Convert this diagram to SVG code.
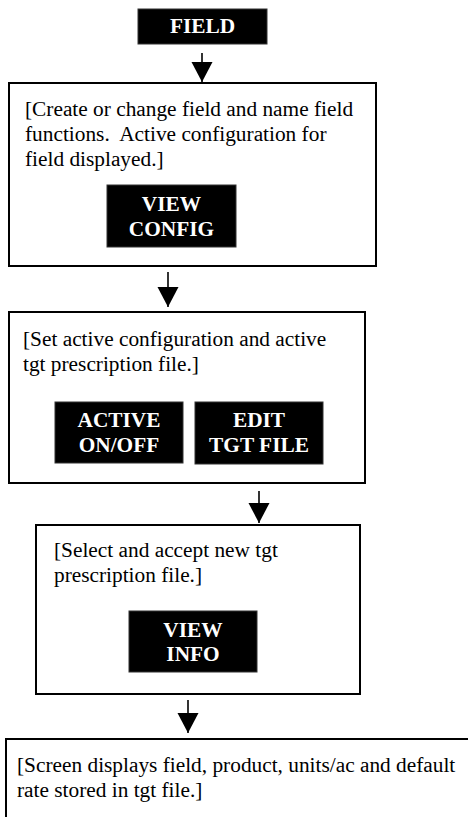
<svg xmlns="http://www.w3.org/2000/svg" width="468" height="817" viewBox="0 0 468 817">
<defs>
<style>
.box{fill:#fff;stroke:#000;stroke-width:2}
.btn{fill:#000;stroke:#333;stroke-width:1}
.t{font-family:"Liberation Serif","Times New Roman",serif;font-size:21.33px;fill:#000;white-space:pre}
.bt{font-family:"Liberation Serif","Times New Roman",serif;font-size:21.33px;font-weight:bold;fill:#fff;text-anchor:middle}
.conn{stroke:#000;stroke-width:1.6;fill:none}
</style>
<marker id="arr" markerUnits="userSpaceOnUse" markerWidth="21" markerHeight="22" refX="20" refY="10.5" orient="auto" viewBox="0 0 21 22">
<path d="M0,0 L20,10.5 L0,21 z" fill="#000"/>
</marker>
</defs>
<g id="connectors">
<line class="conn" x1="202" y1="53" x2="202" y2="82" marker-end="url(#arr)"/>
<line class="conn" x1="168" y1="272" x2="168" y2="307" marker-end="url(#arr)"/>
<line class="conn" x1="259" y1="491" x2="259" y2="523" marker-end="url(#arr)"/>
<line class="conn" x1="188" y1="700" x2="188" y2="733" marker-end="url(#arr)"/>
</g>
<g id="field">
<rect class="btn" x="138" y="9" width="129" height="35"/>
<text class="bt" x="202.5" y="33">FIELD</text>
</g>
<g id="box1">
<rect class="box" x="9" y="83" width="367" height="183"/>
<text class="t" x="25" y="116">[Create or change field and name field</text>
<text class="t" x="25" y="141" xml:space="preserve">functions.  Active configuration for</text>
<text class="t" x="25" y="166">field displayed.]</text>
</g>
<g id="view-config">
<rect class="btn" x="107" y="185" width="129" height="62"/>
<text class="bt" x="171.5" y="211">VIEW</text>
<text class="bt" x="171.5" y="236">CONFIG</text>
</g>
<g id="box2">
<rect class="box" x="9" y="312" width="356" height="171"/>
<text class="t" x="23" y="346">[Set active configuration and active</text>
<text class="t" x="23" y="371">tgt prescription file.]</text>
</g>
<g id="active-onoff">
<rect class="btn" x="55" y="402" width="128" height="61"/>
<text class="bt" x="119" y="427">ACTIVE</text>
<text class="bt" x="119" y="452">ON/OFF</text>
</g>
<g id="edit-tgt-file">
<rect class="btn" x="195" y="402" width="128" height="62"/>
<text class="bt" x="259" y="427">EDIT</text>
<text class="bt" x="259" y="452">TGT FILE</text>
</g>
<g id="box3">
<rect class="box" x="36" y="525" width="324" height="169"/>
<text class="t" x="54" y="557">[Select and accept new tgt</text>
<text class="t" x="54" y="582">prescription file.]</text>
</g>
<g id="view-info">
<rect class="btn" x="129" y="611" width="128" height="61"/>
<text class="bt" x="193" y="637">VIEW</text>
<text class="bt" x="193" y="661">INFO</text>
</g>
<g id="box4">
<rect class="box" x="6" y="739" width="480" height="100"/>
<text class="t" x="17" y="772">[Screen displays field, product, units/ac and default</text>
<text class="t" x="17" y="797">rate stored in tgt file.]</text>
</g>
</svg>
